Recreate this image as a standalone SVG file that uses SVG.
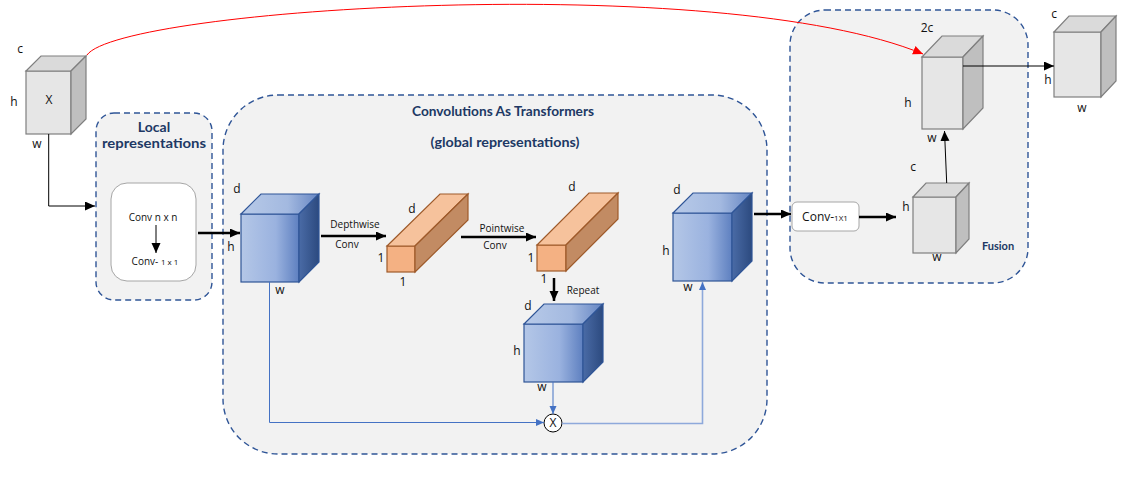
<svg xmlns="http://www.w3.org/2000/svg" width="1138" height="489" viewBox="0 0 1138 489">
<style>
.box{fill:#F2F2F2;stroke:#2F5597;stroke-width:1.4;stroke-dasharray:6,4}
.wbox{fill:#FFFFFF;stroke:#A6A6A6;stroke-width:1}
.lbl{font-family:"Open Sans","DejaVu Sans",sans-serif;font-size:12px;fill:#111;text-anchor:middle}
.sm{font-family:"Open Sans","DejaVu Sans",sans-serif;font-size:10px;fill:#111;text-anchor:middle}
.ttl{font-family:Lato,"Liberation Sans",sans-serif;font-weight:bold;fill:#203864;text-anchor:middle}
.gf{fill:#E6E6E6;stroke:#7F7F7F;stroke-width:1.2}
.gt{fill:#DADADA;stroke:#7F7F7F;stroke-width:1.2}
.gr{fill:#BFBFBF;stroke:#7F7F7F;stroke-width:1.2}
.bf{fill:url(#bfront);stroke:#2F5597;stroke-width:1.2}
.bt{fill:url(#btop);stroke:#2F5597;stroke-width:1.2}
.br{fill:url(#bright);stroke:#2F5597;stroke-width:1.2}
.of{fill:#F4B183;stroke:#9E5A2A;stroke-width:1.2}
.ot{fill:#F6C29C;stroke:#9E5A2A;stroke-width:1.2}
.or{fill:#C28B63;stroke:#9E5A2A;stroke-width:1.2}
.thin{fill:none;stroke:#000;stroke-width:1}
.thick{fill:none;stroke:#000;stroke-width:2.5}
.blue{fill:none;stroke:#4472C4;stroke-width:1}
.lblue{fill:none;stroke:#8EA9DB;stroke-width:1.6}
</style>
<defs>
<linearGradient id="bfront" x1="0" y1="0" x2="1" y2="0">
<stop offset="0" stop-color="#B4C7E7"/><stop offset="0.6" stop-color="#9AB2DF"/><stop offset="1" stop-color="#5E80C0"/>
</linearGradient>
<linearGradient id="btop" x1="0" y1="0" x2="1" y2="0">
<stop offset="0" stop-color="#B8CAE8"/><stop offset="0.6" stop-color="#A3B9E0"/><stop offset="1" stop-color="#6585C2"/>
</linearGradient>
<linearGradient id="bright" x1="0" y1="0" x2="1" y2="0">
<stop offset="0" stop-color="#4A6BA6"/><stop offset="1" stop-color="#2C4A7F"/>
</linearGradient>
<marker id="ah" markerUnits="userSpaceOnUse" markerWidth="11" markerHeight="10" refX="10" refY="4.5" orient="auto">
<path d="M0,0 L10,4.5 L0,9 z" fill="#000"/>
</marker>
<marker id="ahr" markerUnits="userSpaceOnUse" markerWidth="11" markerHeight="10" refX="10" refY="4.5" orient="auto">
<path d="M0,0 L10,4.5 L0,9 z" fill="#FF0000"/>
</marker>
<marker id="ahb" markerUnits="userSpaceOnUse" markerWidth="9" markerHeight="8" refX="8" refY="3.5" orient="auto">
<path d="M0,0 L8,3.5 L0,7 z" fill="#4472C4"/>
</marker>
</defs>

<g id="local-box">
<rect class="box" x="96" y="113" width="116" height="187" rx="18"/>
<text class="ttl" x="154" y="132" font-size="14">Local</text>
<text class="ttl" x="154" y="148" font-size="14" textLength="104" lengthAdjust="spacingAndGlyphs">representations</text>
<rect class="wbox" x="111" y="183" width="85" height="98" rx="16"/>
<text class="sm" x="153" y="220.5">Conv n x n</text>
<text class="sm" x="155" y="264.5">Conv- <tspan font-size="8">1 x 1</tspan></text>
</g>

<g id="global-box">
<rect class="box" x="223" y="95" width="544" height="359" rx="55"/>
<text class="ttl" x="503" y="115.5" font-size="13" textLength="182" lengthAdjust="spacingAndGlyphs">Convolutions As Transformers</text>
<text class="ttl" x="505" y="147" font-size="13" textLength="149" lengthAdjust="spacingAndGlyphs">(global representations)</text>
</g>

<g id="fusion-box">
<rect class="box" x="790" y="10" width="238" height="273" rx="35"/>
<text class="ttl" x="998" y="250" font-size="11">Fusion</text>
</g>

<g id="input-x">
<rect class="gf" x="26" y="71" width="45" height="63"/>
<polygon class="gt" points="26,71 41,56 86,56 71,71"/>
<polygon class="gr" points="71,71 86,56 86,119 71,134"/>
<text class="lbl" x="49" y="103.5">X</text>
<text class="lbl" x="20" y="53">c</text>
<text class="lbl" x="14" y="106">h</text>
<text class="lbl" x="37" y="148">w</text>
</g>

<g id="blue-cube-1">
<rect class="bf" x="241" y="214" width="58" height="68"/>
<polygon class="bt" points="241,214 261,194 319,194 299,214"/>
<polygon class="br" points="299,214 319,194 319,262 299,282"/>
<text class="lbl" x="237" y="193">d</text>
<text class="lbl" x="231" y="251">h</text>
<text class="lbl" x="280" y="294">w</text>
</g>

<g id="orange-bar-1">
<rect class="of" x="387" y="246" width="28" height="26"/>
<polygon class="ot" points="387,246 440,194 468,194 415,246"/>
<polygon class="or" points="415,246 468,194 468,220 415,272"/>
<text class="lbl" x="412" y="213">d</text>
<text class="lbl" x="381" y="262">1</text>
<text class="lbl" x="403" y="286">1</text>
</g>

<g id="orange-bar-2">
<rect class="of" x="537" y="245" width="29" height="26"/>
<polygon class="ot" points="537,245 589,193 618,193 566,245"/>
<polygon class="or" points="566,245 618,193 618,219 566,271"/>
<text class="lbl" x="572" y="191">d</text>
<text class="lbl" x="531" y="262">1</text>
<text class="lbl" x="544" y="283">1</text>
</g>

<g id="blue-cube-repeat">
<rect class="bf" x="524" y="324" width="59" height="58"/>
<polygon class="bt" points="524,324 544,304 603,304 583,324"/>
<polygon class="br" points="583,324 603,304 603,362 583,382"/>
<text class="lbl" x="528" y="310">d</text>
<text class="lbl" x="517" y="355">h</text>
<text class="lbl" x="542" y="391">w</text>
</g>

<g id="blue-cube-3">
<rect class="bf" x="673" y="213" width="59" height="68"/>
<polygon class="bt" points="673,213 693,193 752,193 732,213"/>
<polygon class="br" points="732,213 752,193 752,261 732,281"/>
<text class="lbl" x="677" y="194">d</text>
<text class="lbl" x="666" y="255">h</text>
<text class="lbl" x="688" y="291">w</text>
</g>

<g id="multiply">
<circle cx="553" cy="423" r="9" fill="#FFFFFF" stroke="#000" stroke-width="1"/>
<text class="lbl" x="553" y="427" font-size="11">X</text>
</g>

<g id="conv1x1">
<rect class="wbox" x="792" y="202" width="67" height="29" rx="5"/>
<text class="lbl" x="825" y="221" font-size="11">Conv-<tspan font-size="8">1X1</tspan></text>
</g>

<g id="gray-cube-c">
<rect class="gf" x="913" y="197" width="43" height="56"/>
<polygon class="gt" points="913,197 926,183 969,183 956,197"/>
<polygon class="gr" points="956,197 969,183 969,239 956,253"/>
<text class="lbl" x="913" y="171">c</text>
<text class="lbl" x="906" y="211">h</text>
<text class="lbl" x="937" y="261">w</text>
</g>

<g id="gray-cube-2c">
<rect class="gf" x="922" y="57" width="41" height="72"/>
<polygon class="gt" points="922,57 942,36 983,36 963,57"/>
<polygon class="gr" points="963,57 983,36 983,108 963,129"/>
<text class="lbl" x="927" y="32">2c</text>
<text class="lbl" x="908" y="107">h</text>
<text class="lbl" x="932" y="142">w</text>
</g>

<g id="output-cube">
<rect class="gf" x="1054" y="32" width="47" height="65"/>
<polygon class="gt" points="1054,32 1069,16 1116,16 1101,32"/>
<polygon class="gr" points="1101,32 1116,16 1116,81 1101,97"/>
<text class="lbl" x="1054" y="18">c</text>
<text class="lbl" x="1048" y="84">h</text>
<text class="lbl" x="1082" y="112">w</text>
</g>

<g id="connectors">
<path class="thin" d="M48.7,134 V206 H95" marker-end="url(#ah)"/>
<path class="thin" d="M156,225 V253" marker-end="url(#ah)"/>
<path class="thick" d="M198,233 H240" marker-end="url(#ah)"/>
<path class="thick" d="M321,236 H386" marker-end="url(#ah)"/>
<text class="sm" x="355" y="228">Depthwise</text>
<text class="sm" x="347" y="248">Conv</text>
<path class="thick" d="M461,237 H536" marker-end="url(#ah)"/>
<text class="sm" x="502" y="232">Pointwise</text>
<text class="sm" x="495" y="249">Conv</text>
<path class="thick" d="M554,278 V301" marker-end="url(#ah)"/>
<text class="sm" x="583" y="293.5">Repeat</text>
<path class="thick" d="M754,214 H791" marker-end="url(#ah)"/>
<path class="thick" d="M859,217 H896" marker-end="url(#ah)"/>
<path class="thin" d="M946.7,183 L944.5,131" marker-end="url(#ah)"/>
<path class="thin" d="M963,66 H1054" marker-end="url(#ah)"/>
<path d="M87,55 C120,8 720,-30 923,54" fill="none" stroke="#FF0000" stroke-width="1" marker-end="url(#ahr)"/>
<path class="blue" d="M269.5,282 V422.5 H544" marker-end="url(#ahb)"/>
<path class="blue" d="M553,382 V414" marker-end="url(#ahb)"/>
<path class="lblue" d="M562,423.5 H702.5 V282" marker-end="url(#ahb)"/>
</g>
</svg>
